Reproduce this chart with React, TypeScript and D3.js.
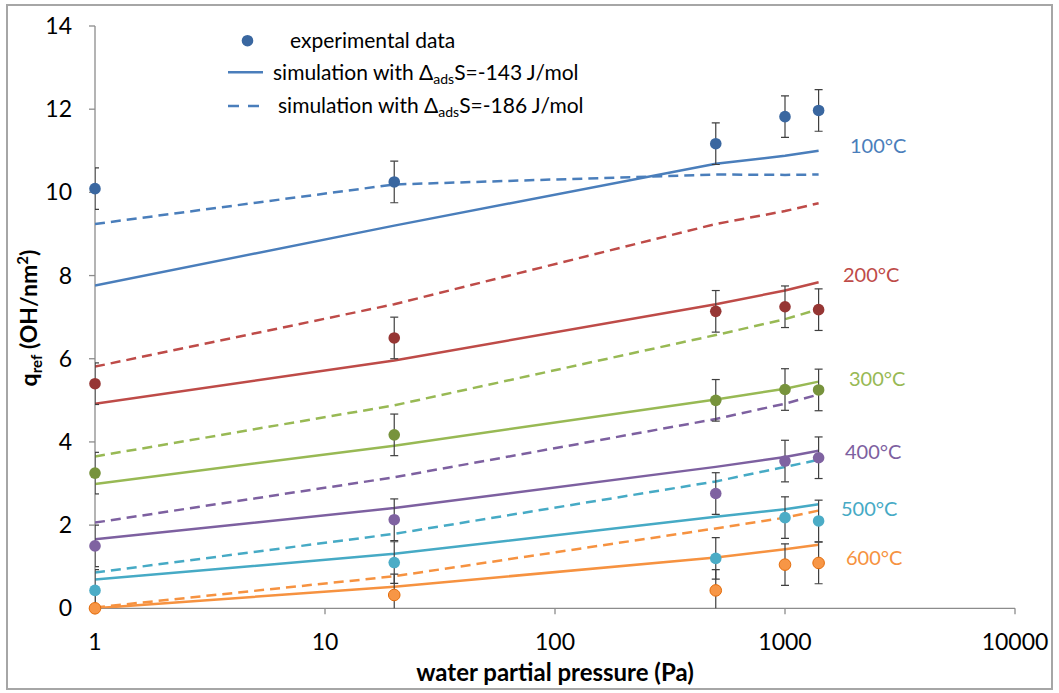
import * as d3 from "d3";

// water partial pressure (Pa)
const pressures = [1, 20, 500, 1000, 1400];
const temps = ["100°C", "200°C", "300°C", "400°C", "500°C", "600°C"];

// experimental q_ref (OH/nm2), one row per temperature
const expData = [
  [10.09, 10.25, 11.17, 11.82, 11.97],
  [5.4, 6.5, 7.14, 7.25, 7.18],
  [3.25, 4.17, 5.0, 5.26, 5.25],
  [1.5, 2.13, 2.76, 3.54, 3.62],
  [0.43, 1.1, 1.2, 2.18, 2.1],
  [0.0, 0.32, 0.43, 1.05, 1.09],
];
const expError = 0.5;

// simulation, dS = -143 J/mol (solid)
const sim143 = [
  [7.76, 9.2, 10.69, 10.88, 11.0],
  [4.92, 5.96, 7.31, 7.64, 7.84],
  [2.99, 3.91, 5.02, 5.28, 5.45],
  [1.66, 2.41, 3.4, 3.64, 3.79],
  [0.69, 1.31, 2.2, 2.38, 2.5],
  [0.0, 0.52, 1.22, 1.42, 1.53],
];

// simulation, dS = -186 J/mol (dashed)
const sim186 = [
  [9.24, 10.19, 10.43, 10.42, 10.43],
  [5.81, 7.31, 9.24, 9.55, 9.74],
  [3.65, 4.88, 6.57, 6.95, 7.19],
  [2.06, 3.15, 4.55, 4.92, 5.14],
  [0.86, 1.79, 3.05, 3.4, 3.57],
  [0.02, 0.77, 1.92, 2.18, 2.35],
];

const xTicks = [1, 10, 100, 1000, 10000];
const yTicks = [0, 2, 4, 6, 8, 10, 12, 14];

const lineColors = ["#4A7EBB", "#BE4B48", "#98B954", "#7D60A0", "#46AAC5", "#F69240"];
const dotColors = ["#3A67A0", "#963634", "#77933C", "#7F62A1", "#4BACC6", "#F79646"];
const dotStroke = ["none", "none", "none", "none", "none", "#E46C0A"];
const labelPos = [
  [850, 153],
  [843, 282],
  [849, 386],
  [845, 459],
  [841, 516],
  [846, 565],
];

const FONT = "Lato, 'Open Sans', sans-serif";

export default function App() {
  const width = 1059;
  const height = 693;

  const x = d3.scaleLog().domain([1, 10000]).range([95, 1015]);
  const y = d3.scaleLinear().domain([0, 14]).range([608.3, 26]);

  const line = d3
    .line<number>()
    .x((_, i) => x(pressures[i]))
    .y((d) => y(d));

  const axisColor = "#8C8C8C";

  return (
    <svg
      width={width}
      height={height}
      style={{ position: "absolute", left: 0, top: 0, background: "#fff" }}
      fontFamily={FONT}
    >
      <defs>
        <clipPath id="plot">
          <rect x={x(1)} y={y(14) - 10} width={x(10000) - x(1)} height={y(0) - y(14) + 10} />
        </clipPath>
      </defs>
      <rect x={7} y={5} width={1045} height={684} fill="#fff" stroke="#A6A6A6" strokeWidth={2} />

      {/* axes */}
      <line x1={x(1)} x2={x(1)} y1={y(14)} y2={y(0)} stroke={axisColor} strokeWidth={1.3} />
      <line x1={x(1)} x2={x(10000)} y1={y(0)} y2={y(0)} stroke={axisColor} strokeWidth={1.3} />
      {yTicks.map((t) => (
        <g key={"y" + t}>
          <line x1={x(1) - 6} x2={x(1)} y1={y(t)} y2={y(t)} stroke={axisColor} strokeWidth={1.3} />
          <text x={72} y={y(t)} dy="0.35em" textAnchor="end" fontSize={23} fill="#000">
            {t}
          </text>
        </g>
      ))}
      {xTicks.map((t) => (
        <g key={"x" + t}>
          <line x1={x(t)} x2={x(t)} y1={y(0)} y2={y(0) + 6} stroke={axisColor} strokeWidth={1.3} />
          <text x={x(t)} y={650} textAnchor="middle" fontSize={23} fill="#000">
            {t}
          </text>
        </g>
      ))}

      <text x={555} y={681} textAnchor="middle" fontSize={24} fontWeight="bold" fill="#000">
        water partial pressure (Pa)
      </text>
      <text transform="translate(37,318) rotate(-90)" textAnchor="middle" fontSize={23} fontWeight="bold" fill="#000">
        q<tspan fontSize={15} dy={5}>ref</tspan>
        <tspan dy={-5}> (OH/nm</tspan>
        <tspan fontSize={15} dy={-9}>2</tspan>
        <tspan dy={9}>)</tspan>
      </text>

      <g clipPath="url(#plot)">
        {sim186.map((s, k) => (
          <path
            key={"d" + k}
            d={line(s) || ""}
            fill="none"
            stroke={lineColors[k]}
            strokeWidth={2.5}
            strokeDasharray="10 6"
          />
        ))}
        {sim143.map((s, k) => (
          <path key={"s" + k} d={line(s) || ""} fill="none" stroke={lineColors[k]} strokeWidth={2.5} />
        ))}
        {expData.map((s, k) =>
          s.map((v, i) => {
            const cx = x(pressures[i]);
            const top = y(v + expError);
            const bot = y(v - expError);
            return (
              <g key={"e" + k + "-" + i} stroke="#3F3F3F" strokeWidth={1.2}>
                <line x1={cx} x2={cx} y1={top} y2={bot} />
                <line x1={cx - 4} x2={cx + 4} y1={top} y2={top} />
                <line x1={cx - 4} x2={cx + 4} y1={bot} y2={bot} />
              </g>
            );
          })
        )}
      </g>
      {expData.map((s, k) =>
        s.map((v, i) => (
          <circle
            key={"c" + k + "-" + i}
            cx={x(pressures[i])}
            cy={y(v)}
            r={5.8}
            fill={dotColors[k]}
            stroke={dotStroke[k]}
            strokeWidth={1}
          />
        ))
      )}

      {temps.map((t, k) => (
        <text key={t} x={labelPos[k][0]} y={labelPos[k][1]} fontSize={20} fill={lineColors[k]}>
          {t}
        </text>
      ))}

      {/* legend */}
      <g fontSize={21} fill="#000">
        <circle cx={247.5} cy={40.7} r={5.8} fill={dotColors[0]} />
        <text x={290} y={48.3}>experimental data</text>
        <line x1={228} x2={263} y1={72.3} y2={72.3} stroke={lineColors[0]} strokeWidth={2.5} />
        <text x={273} y={80}>
          simulation with Δ<tspan fontSize={14} dy={4}>ads</tspan>
          <tspan dy={-4}>S=-143 J/mol</tspan>
        </text>
        <line x1={228} x2={260} y1={106} y2={106} stroke={lineColors[0]} strokeWidth={2.5} strokeDasharray="11 9" />
        <text x={278} y={113}>
          simulation with Δ<tspan fontSize={14} dy={4}>ads</tspan>
          <tspan dy={-4}>S=-186 J/mol</tspan>
        </text>
      </g>
    </svg>
  );
}
